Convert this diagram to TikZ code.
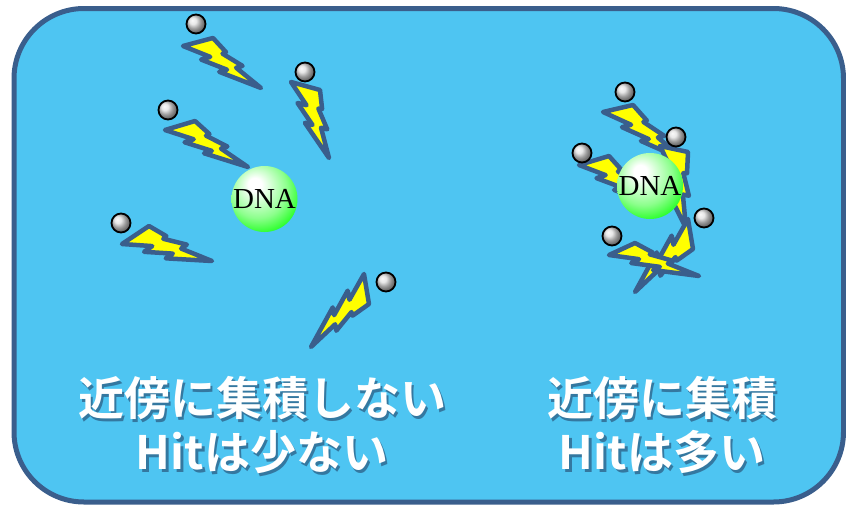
\documentclass[tikz,border=0pt]{standalone}
\usepackage{fontspec}
\newfontfamily\jpfont{Noto Sans CJK JP}[BoldFont={* Bold}]
\newfontfamily\dnafont{Liberation Serif}
\usetikzlibrary{calc}

\definecolor{sky}{RGB}{78,197,242}
\definecolor{frame}{RGB}{58,94,140}
\definecolor{bolty}{RGB}{255,255,0}
\definecolor{capshadow}{RGB}{52,120,160}

% glowing green sphere for the DNA
\pgfdeclareradialshading{dnaglow}{\pgfpoint{-8bp}{12bp}}{%
  color(0bp)=(white); color(5bp)=(white); color(22bp)=(green!45!white);
  color(36bp)=(green); color(60bp)=(green)}

% lightning bolt from tail corner #1, tail top #2 and tip #3
\newcommand{\bolt}[3]{%
  \coordinate (bl) at #1;
  \coordinate (bt) at #2;
  \coordinate (bp) at #3;
  \draw[flash] (bt) -- (bl)
    -- (barycentric cs:bl=0.5546,bt=0.1565,bp=0.2889)
    -- (barycentric cs:bl=0.8648,bt=-0.1578,bp=0.2929)
    -- (barycentric cs:bl=0.4353,bp=0.5647)
    -- (barycentric cs:bl=0.6969,bt=-0.2617,bp=0.5648)
    -- (bp)
    -- (barycentric cs:bl=0.1425,bt=0.2857,bp=0.5718)
    -- (barycentric cs:bl=-0.0728,bt=0.5033,bp=0.5695)
    -- (barycentric cs:bl=0.1461,bt=0.5642,bp=0.2897)
    -- (barycentric cs:bl=0.0150,bt=0.7044,bp=0.2806)
    -- cycle;
}
% caption text with a soft drop shadow
\newcommand{\shadowed}[1]{\rlap{\kern2.5pt\raisebox{-2.5pt}{\color{capshadow}#1}}#1}

\begin{document}
\begin{tikzpicture}[x=1pt,y=-1pt,
  flash/.style={fill=bolty, draw=frame, line width=4.5pt, line join=round},
  particle/.style={circle, draw=black, line width=1.8pt, shade, shading=ball,
    ball color=gray!25, minimum size=19pt, inner sep=0pt},
  dna/.style={circle, minimum size=66pt, inner sep=0pt, shade, shading=dnaglow,
    font=\dnafont\fontsize{29}{29}\selectfont},
  caption/.style={text=white, anchor=base,
    font=\jpfont\bfseries\fontsize{46}{46}\selectfont}]
\useasboundingbox (0,0) rectangle (846,506);
\draw[fill=sky, draw=frame, line width=5pt, rounded corners=70pt]
  (14,8.5) rectangle (843.5,502);

% scattered hits
\bolt{(183,46)}{(213,38)}{(261,88)}
\bolt{(291,82)}{(320,90)}{(329,158)}
\bolt{(165,130)}{(195,121)}{(248,167)}
\bolt{(122,244)}{(149,226)}{(212,261)}
\bolt{(364,274)}{(369,304)}{(311,347)}
\node[particle] (p1) at (196,24) {};
\node[particle] (p2) at (305,72) {};
\node[particle] (p3) at (168,110) {};
\node[particle] (p4) at (121,223) {};
\node[particle] (p5) at (386,282) {};
\node[dna] (dnaL) at (264.5,199) {DNA};

% gathered hits
\bolt{(603,112)}{(633,105)}{(684,160)}
\bolt{(579,165)}{(609,156)}{(655,205)}
\bolt{(660,146)}{(688,152)}{(686,228)}
\bolt{(688,219)}{(693,249)}{(635,292)}
\bolt{(609,255)}{(635,243)}{(699,276)}
\node[particle] (q1) at (625,92) {};
\node[particle] (q2) at (676,137) {};
\node[particle] (q3) at (582,153) {};
\node[particle] (q4) at (704,218) {};
\node[particle] (q5) at (612,236) {};
\node[dna] (dnaR) at (650,186) {DNA};

% captions
\node[caption] (capL) at (262,415.5) {\shadowed{近傍に集積しない}};
\node[caption] (hitL) at (262,469.5) {\shadowed{Hitは少ない}};
\node[caption] (capR) at (662,415.5) {\shadowed{近傍に集積}};
\node[caption] (hitR) at (662,469.5) {\shadowed{Hitは多い}};
\end{tikzpicture}
\end{document}
